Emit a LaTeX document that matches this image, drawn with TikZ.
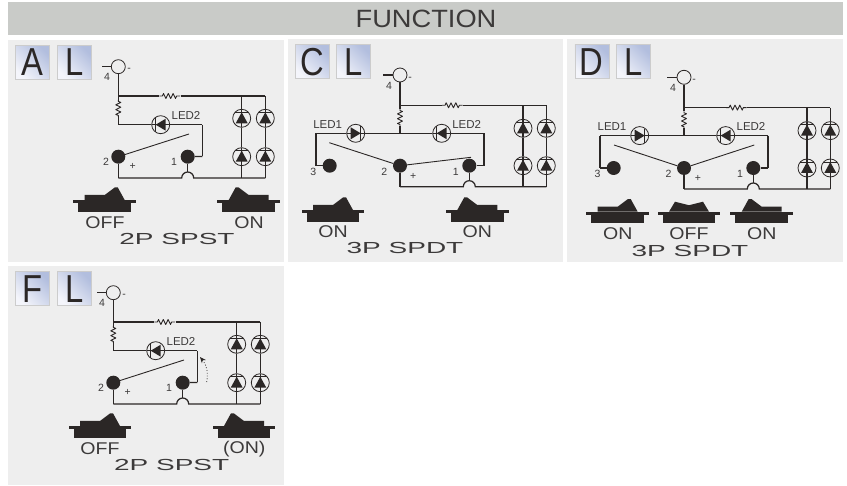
\documentclass[tikz,border=0pt]{standalone}
\usepackage{fontspec}
\setmainfont{Liberation Sans}
\usetikzlibrary{positioning,arrows.meta}

\definecolor{ink}{HTML}{2B2726}
\definecolor{inktext}{HTML}{3C3A3A}
\definecolor{panelgray}{HTML}{EEEEEE}
\definecolor{headgray}{HTML}{C9CBC8}
\definecolor{keylight}{HTML}{F4F5FB}
\definecolor{keyblue}{HTML}{B2BEDE}

\newcommand{\keyletter}[1]{\scalebox{.84}[1]{#1}}

\tikzset{
  wire/.style={line width=1.25pt,ink},
  lever/.style={line width=.9pt,ink},
  panel/.style={rectangle,fill=panelgray,inner sep=0pt,anchor=north west},
  term/.style={circle,fill=ink,inner sep=0pt,minimum size=14pt},
  jack/.style={circle,draw=ink,line width=.8pt,inner sep=0pt,minimum size=14pt},
  keycap/.style={rectangle,draw=black!20,line width=.6pt,minimum size=34pt,inner sep=0pt,
    left color=keylight,right color=keyblue,shading angle=135,
    text=ink,font=\fontsize{39}{39}\selectfont},
  ledup/.style={circle,draw=ink,line width=.8pt,minimum size=18pt,inner sep=0pt,path picture={
    \draw[wire] ([yshift=12pt]path picture bounding box.center) -- ++(0,24);
    \fill[ink] ([shift={(-6,5)}]path picture bounding box.center) -- ++(12,0) -- ++(-6,-11) -- cycle;
    \draw[lever] ([shift={(-7,-6)}]path picture bounding box.center) -- ++(14,0);}},
  ledleft/.style={circle,draw=ink,line width=.8pt,minimum size=18pt,inner sep=0pt,path picture={
    \draw[wire] ([xshift=-12pt]path picture bounding box.center) -- ++(24,0);
    \fill[ink] ([shift={(5,-6)}]path picture bounding box.center) -- ++(0,12) -- ++(-10,-6) -- cycle;
    \draw[lever] ([shift={(-5,-7)}]path picture bounding box.center) -- ++(0,14);}},
  ledright/.style={circle,draw=ink,line width=.8pt,minimum size=18pt,inner sep=0pt,path picture={
    \draw[wire] ([xshift=-12pt]path picture bounding box.center) -- ++(24,0);
    \fill[ink] ([shift={(-5,-6)}]path picture bounding box.center) -- ++(0,12) -- ++(10,-6) -- cycle;
    \draw[lever] ([shift={(5,-7)}]path picture bounding box.center) -- ++(0,14);}},
  resh/.style={rectangle,minimum width=21pt,minimum height=8pt,inner sep=0pt,path picture={
    \draw[lever,line join=round] ([xshift=-10.5pt]path picture bounding box.center)
      -- ++(3,0) -- ++(1.2,-2.5) -- ++(2.4,5) -- ++(2.4,-5) -- ++(2.4,5) -- ++(2.4,-5) -- ++(2.4,5) -- ++(1.2,-2.5) -- ++(3.3,0);}},
  resv/.style={rectangle,minimum height=17pt,minimum width=8pt,inner sep=0pt,path picture={
    \draw[lever,line join=round] ([yshift=8.5pt]path picture bounding box.center)
      -- ++(0,1.5) -- ++(2.5,1) -- ++(-5,2.4) -- ++(5,2.4) -- ++(-5,2.4) -- ++(5,2.4) -- ++(-5,2.4) -- ++(2.5,1) -- ++(0,1.5);}},
  tag/.style={text=inktext,inner sep=0pt,font=\fontsize{10.5}{10.5}\selectfont},
  ledtag/.style={text=inktext,inner sep=0pt,font=\fontsize{11.5}{11.5}\selectfont},
  swtext/.style={text=inktext,inner sep=0pt,xscale=1.15,transform shape,font=\fontsize{17}{17}\selectfont},
  modetext/.style={text=inktext,inner sep=0pt,xscale=1.75,transform shape,font=\fontsize{16}{16}\selectfont},
  pics/rockerl/.style={code={
    \fill[ink] (-31.3,0) rectangle (31.3,3);
    \fill[ink] (-26.3,3) rectangle (26.3,11.7);
    \fill[ink] (-20,0) -- (-20,-5) -- (0,-5) -- (10,-12.5) -- (13,-12.7) -- (20,0) -- cycle;}},
  pics/rockerr/.style={code={
    \fill[ink] (-31.3,0) rectangle (31.3,3);
    \fill[ink] (-26.3,3) rectangle (26.3,11.7);
    \fill[ink] (20,0) -- (20,-5) -- (0,-5) -- (-10,-12.5) -- (-13,-12.7) -- (-20,0) -- cycle;}},
  pics/rockerm/.style={code={
    \fill[ink] (-31.3,0) rectangle (31.3,3);
    \fill[ink] (-26.3,3) rectangle (26.3,11.7);
    \fill[ink] (-20,0) -- (-14,-10) -- (0,-6.5) -- (14,-10) -- (20,0) -- cycle;}},
}

\begin{document}
\begin{tikzpicture}[x=1pt,y=-1pt,on grid]
  \useasboundingbox (0,0) rectangle (847,486);

  \node[panel,minimum width=835pt,minimum height=33pt,fill=headgray] (head) at (8,2) {};
  \node[text=inktext,xscale=1.09,transform shape,font=\fontsize{25}{25}\selectfont] (title) at (426,18.7) {FUNCTION};
  \node[panel,minimum width=275.5pt,minimum height=222pt] (panel_a) at (8,40) {};
  \node[panel,minimum width=275pt,minimum height=223pt] (panel_c) at (288,39) {};
  \node[panel,minimum width=276pt,minimum height=223pt] (panel_d) at (567,39) {};
  \node[panel,minimum width=275.5pt,minimum height=219pt] (panel_f) at (8,266) {};

  % panel A
  \node[keycap] (a_key) at (32.5,62.5) {\keyletter{A}};
  \node[keycap] (a_lkey) [right=42pt of a_key] {\keyletter{L}};
  \node[jack] (a_4) at (118.3,66.7) {};
  \coordinate (a_lead) at (102,66.7);
  \coordinate[below=29.3pt of a_4] (a_j);
  \node[resv] (a_rv) [below=41.7pt of a_4] {};
  \coordinate[below=58pt of a_4] (a_k);
  \node[term] (a_2) [below=90pt of a_4] {};
  \node[term] (a_1) [right=69.4pt of a_2] {};
  \coordinate[below=21.3pt of a_2] (a_s);
  \node[resh] (a_rh) [right=51.5pt of a_j,anchor=center] {};
  \coordinate[right=123.4pt of a_j] (a_c1);
  \coordinate[right=147pt of a_j] (a_c2);
  \node[ledup] (a_d1) [below=22.3pt of a_c1,anchor=center] {};
  \node[ledup] (a_d2) [below=22.3pt of a_c2,anchor=center] {};
  \node[ledup] (a_d3) [below=60.7pt of a_c1,anchor=center] {};
  \node[ledup] (a_d4) [below=60.7pt of a_c2,anchor=center] {};
  \coordinate[right=123.4pt of a_s] (a_b1);
  \coordinate[right=147pt of a_s] (a_b2);
  \node[ledleft] (a_led2) [right=42.4pt of a_k,anchor=center] {};
  \coordinate[right=84pt of a_k] (a_e);
  \coordinate[below=31.7pt of a_e] (a_f);
  \coordinate[right=69.4pt of a_s] (a_hb);
  \coordinate[left=6pt of a_hb] (a_hl);
  \coordinate[above=6pt of a_hb] (a_ht);
  \coordinate (a_tip) at (189,134);
  \node[ledtag] (a_led2t) at (186,115) {LED2};
  \node[tag] (a_n4) at (107,76.7) {4};
  \node[tag] (a_nm) at (129,70) {-};
  \node[tag] (a_n2) at (106,162) {2};
  \node[tag] (a_n1) at (174,162) {1};
  \node[tag] (a_np) at (132.7,166.7) {+};
  \path[wire]
    (a_lead) edge (a_4)
    (a_4) edge (a_j)
    (a_j) edge (a_rv)
    (a_rv) edge (a_k)
    (a_j) edge (a_rh)
    (a_rh) edge (a_c2)
    (a_c1) edge (a_d1)
    (a_d1) edge (a_d3)
    (a_d3) edge (a_b1)
    (a_c2) edge (a_d2)
    (a_d2) edge (a_d4)
    (a_d4) edge (a_b2)
    (a_k) edge (a_led2)
    (a_led2) edge (a_e)
    (a_e) edge (a_f)
    (a_f) edge (a_1)
    (a_2) edge (a_s)
    (a_1) edge (a_ht);
  \draw[wire] (a_s) -- (a_hl) arc[start angle=180,end angle=0,radius=6pt] -- (a_b2);
  \path[lever] (a_2) edge (a_tip);
  \pic (a_r1) at (104.7,200) {rockerl};
  \pic (a_r2) at (248.7,200) {rockerr};
  \node[swtext] (a_off) at (105,222.7) {OFF};
  \node[swtext] (a_on) at (249,222.7) {ON};
  \node[modetext] (a_mode) at (177,239) {2P SPST};

  % panel C
  \node[keycap] (c_key) at (312.5,61.8) {\keyletter{C}};
  \node[keycap] (c_lkey) [right=41pt of c_key] {\keyletter{L}};
  \node[jack] (c_4) at (400,75) {};
  \coordinate (c_lead) at (383,75);
  \coordinate[below=30.3pt of c_4] (c_j);
  \node[resv] (c_rv) [below=42.5pt of c_4] {};
  \coordinate[below=58.3pt of c_4] (c_k);
  \node[term] (c_2) [below=90.7pt of c_4] {};
  \node[term] (c_1) [right=69.3pt of c_2] {};
  \node[term] (c_3) [left=70.3pt of c_2] {};
  \coordinate[below=21pt of c_2] (c_s);
  \node[resh] (c_rh) [right=52.5pt of c_j,anchor=center] {};
  \coordinate[right=123pt of c_j] (c_c1);
  \coordinate[right=146.3pt of c_j] (c_c2);
  \node[ledup] (c_d1) [below=23pt of c_c1,anchor=center] {};
  \node[ledup] (c_d2) [below=23pt of c_c2,anchor=center] {};
  \node[ledup] (c_d3) [below=60.4pt of c_c1,anchor=center] {};
  \node[ledup] (c_d4) [below=60.4pt of c_c2,anchor=center] {};
  \coordinate[right=123pt of c_s] (c_b1);
  \coordinate[right=146.3pt of c_s] (c_b2);
  \node[ledright] (c_led1) [left=44.3pt of c_k,anchor=center] {};
  \node[ledleft] (c_led2) [right=41.7pt of c_k,anchor=center] {};
  \coordinate[left=84pt of c_k] (c_e);
  \coordinate[right=84pt of c_k] (c_g);
  \coordinate[below=32.4pt of c_e] (c_f);
  \coordinate[below=32.4pt of c_g] (c_h);
  \coordinate[right=69.3pt of c_s] (c_hb);
  \coordinate[left=6pt of c_hb] (c_hl);
  \coordinate[above=6pt of c_hb] (c_ht);
  \coordinate (c_tip1) at (329.3,142.7);
  \coordinate (c_tip2) at (471,157.3);
  \node[ledtag] (c_led1t) at (327.7,124.3) {LED1};
  \node[ledtag] (c_led2t) at (466.7,124.3) {LED2};
  \node[tag] (c_n4) at (389,85.7) {4};
  \node[tag] (c_nm) at (410,79) {-};
  \node[tag] (c_n3) at (313.3,172.3) {3};
  \node[tag] (c_n2) at (384.3,172.3) {2};
  \node[tag] (c_n1) at (455.7,172.3) {1};
  \node[tag] (c_np) at (413.3,176.7) {+};
  \path[wire]
    (c_lead) edge (c_4)
    (c_4) edge (c_j)
    (c_j) edge (c_rv)
    (c_rv) edge (c_k)
    (c_j) edge (c_rh)
    (c_rh) edge (c_c2)
    (c_c1) edge (c_d1)
    (c_d1) edge (c_d3)
    (c_d3) edge (c_b1)
    (c_c2) edge (c_d2)
    (c_d2) edge (c_d4)
    (c_d4) edge (c_b2)
    (c_e) edge (c_led1)
    (c_led1) edge (c_led2)
    (c_led2) edge (c_g)
    (c_e) edge (c_f)
    (c_f) edge (c_3)
    (c_g) edge (c_h)
    (c_h) edge (c_1)
    (c_2) edge (c_s)
    (c_1) edge (c_ht);
  \draw[wire] (c_s) -- (c_hl) arc[start angle=180,end angle=0,radius=6pt] -- (c_b2);
  \path[lever]
    (c_2) edge (c_tip1)
    (c_2) edge (c_tip2);
  \pic (c_r1) at (333,210) {rockerl};
  \pic (c_r2) at (477.3,210) {rockerr};
  \node[swtext] (c_on1) at (333,231.7) {ON};
  \node[swtext] (c_on2) at (477.3,231.7) {ON};
  \node[modetext] (c_mode) at (405,248.3) {3P SPDT};

  % panel D
  \node[keycap] (d_key) at (591.8,61.8) {\keyletter{D}};
  \node[keycap] (d_lkey) [right=41.7pt of d_key] {\keyletter{L}};
  \node[jack] (d_4) at (684,77.3) {};
  \coordinate (d_lead) at (667,77.3);
  \coordinate[below=30.3pt of d_4] (d_j);
  \node[resv] (d_rv) [below=42.5pt of d_4] {};
  \coordinate[below=58.3pt of d_4] (d_k);
  \node[term] (d_2) [below=90.7pt of d_4] {};
  \node[term] (d_1) [right=69.3pt of d_2] {};
  \node[term] (d_3) [left=70.3pt of d_2] {};
  \coordinate[below=21pt of d_2] (d_s);
  \node[resh] (d_rh) [right=52.5pt of d_j,anchor=center] {};
  \coordinate[right=123pt of d_j] (d_c1);
  \coordinate[right=146.3pt of d_j] (d_c2);
  \node[ledup] (d_d1) [below=23pt of d_c1,anchor=center] {};
  \node[ledup] (d_d2) [below=23pt of d_c2,anchor=center] {};
  \node[ledup] (d_d3) [below=60.4pt of d_c1,anchor=center] {};
  \node[ledup] (d_d4) [below=60.4pt of d_c2,anchor=center] {};
  \coordinate[right=123pt of d_s] (d_b1);
  \coordinate[right=146.3pt of d_s] (d_b2);
  \node[ledright] (d_led1) [left=44.3pt of d_k,anchor=center] {};
  \node[ledleft] (d_led2) [right=41.7pt of d_k,anchor=center] {};
  \coordinate[left=84pt of d_k] (d_e);
  \coordinate[right=84pt of d_k] (d_g);
  \coordinate[below=32.4pt of d_e] (d_f);
  \coordinate[below=32.4pt of d_g] (d_h);
  \coordinate[right=69.3pt of d_s] (d_hb);
  \coordinate[left=6pt of d_hb] (d_hl);
  \coordinate[above=6pt of d_hb] (d_ht);
  \coordinate (d_tip1) at (614,145);
  \coordinate (d_tip2) at (754.3,145);
  \node[ledtag] (d_led1t) at (612,126.3) {LED1};
  \node[ledtag] (d_led2t) at (751,126.3) {LED2};
  \node[tag] (d_n4) at (673,88) {4};
  \node[tag] (d_nm) at (694,81) {-};
  \node[tag] (d_n3) at (597.5,174.3) {3};
  \node[tag] (d_n2) at (668.5,174.3) {2};
  \node[tag] (d_n1) at (740,174.3) {1};
  \node[tag] (d_np) at (698,178.7) {+};
  \path[wire]
    (d_lead) edge (d_4)
    (d_4) edge (d_j)
    (d_j) edge (d_rv)
    (d_rv) edge (d_k)
    (d_j) edge (d_rh)
    (d_rh) edge (d_c2)
    (d_c1) edge (d_d1)
    (d_d1) edge (d_d3)
    (d_d3) edge (d_b1)
    (d_c2) edge (d_d2)
    (d_d2) edge (d_d4)
    (d_d4) edge (d_b2)
    (d_e) edge (d_led1)
    (d_led1) edge (d_led2)
    (d_led2) edge (d_g)
    (d_e) edge (d_f)
    (d_f) edge (d_3)
    (d_g) edge (d_h)
    (d_h) edge (d_1)
    (d_2) edge (d_s)
    (d_1) edge (d_ht);
  \draw[wire] (d_s) -- (d_hl) arc[start angle=180,end angle=0,radius=6pt] -- (d_b2);
  \path[lever]
    (d_2) edge (d_tip1)
    (d_2) edge (d_tip2);
  \pic (d_r1) at (617.7,211.7) {rockerl};
  \pic (d_r2) at (689,211.7) {rockerm};
  \pic (d_r3) at (761.7,211.7) {rockerr};
  \node[swtext] (d_on1) at (617.7,234) {ON};
  \node[swtext] (d_off) at (689,234) {OFF};
  \node[swtext] (d_on2) at (761.7,234) {ON};
  \node[modetext] (d_mode) at (690,250.7) {3P SPDT};

  % panel F
  \node[keycap] (f_key) at (32.5,288.8) {\keyletter{F}};
  \node[keycap] (f_lkey) [right=42pt of f_key] {\keyletter{L}};
  \node[jack] (f_4) at (113.3,292.7) {};
  \coordinate (f_lead) at (97,292.7);
  \coordinate[below=29.3pt of f_4] (f_j);
  \node[resv] (f_rv) [below=41.7pt of f_4] {};
  \coordinate[below=58pt of f_4] (f_k);
  \node[term] (f_2) [below=90pt of f_4] {};
  \node[term] (f_1) [right=69.4pt of f_2] {};
  \coordinate[below=21.3pt of f_2] (f_s);
  \node[resh] (f_rh) [right=51.5pt of f_j,anchor=center] {};
  \coordinate[right=123.4pt of f_j] (f_c1);
  \coordinate[right=147pt of f_j] (f_c2);
  \node[ledup] (f_d1) [below=22.3pt of f_c1,anchor=center] {};
  \node[ledup] (f_d2) [below=22.3pt of f_c2,anchor=center] {};
  \node[ledup] (f_d3) [below=60.7pt of f_c1,anchor=center] {};
  \node[ledup] (f_d4) [below=60.7pt of f_c2,anchor=center] {};
  \coordinate[right=123.4pt of f_s] (f_b1);
  \coordinate[right=147pt of f_s] (f_b2);
  \node[ledleft] (f_led2) [right=42.4pt of f_k,anchor=center] {};
  \coordinate[right=84pt of f_k] (f_e);
  \coordinate[below=31.7pt of f_e] (f_f);
  \coordinate[right=69.4pt of f_s] (f_hb);
  \coordinate[left=6pt of f_hb] (f_hl);
  \coordinate[above=6pt of f_hb] (f_ht);
  \coordinate (f_tip) at (184,360);
  \coordinate (f_from) at (206.7,382);
  \coordinate (f_to) at (200,357);
  \node[ledtag] (f_led2t) at (181,341) {LED2};
  \node[tag] (f_n4) at (102,302.7) {4};
  \node[tag] (f_nm) at (124,296) {-};
  \node[tag] (f_n2) at (101,388) {2};
  \node[tag] (f_n1) at (169,388) {1};
  \node[tag] (f_np) at (127.7,392.7) {+};
  \path[wire]
    (f_lead) edge (f_4)
    (f_4) edge (f_j)
    (f_j) edge (f_rv)
    (f_rv) edge (f_k)
    (f_j) edge (f_rh)
    (f_rh) edge (f_c2)
    (f_c1) edge (f_d1)
    (f_d1) edge (f_d3)
    (f_d3) edge (f_b1)
    (f_c2) edge (f_d2)
    (f_d2) edge (f_d4)
    (f_d4) edge (f_b2)
    (f_k) edge (f_led2)
    (f_led2) edge (f_e)
    (f_e) edge (f_f)
    (f_f) edge (f_1)
    (f_2) edge (f_s)
    (f_1) edge (f_ht);
  \draw[wire] (f_s) -- (f_hl) arc[start angle=180,end angle=0,radius=6pt] -- (f_b2);
  \path[lever] (f_2) edge (f_tip);
  \draw[dotted,line width=.8pt,ink,-{Stealth[length=6pt,width=5pt]}] (f_from) to[bend right=25] (f_to);
  \pic (f_r1) at (100,426) {rockerl};
  \pic (f_r2) at (244,426) {rockerr};
  \node[swtext] (f_off) at (100,448.7) {OFF};
  \node[swtext] (f_on) at (244.3,448.7) {(ON)};
  \node[modetext] (f_mode) at (171.7,465.3) {2P SPST};
\end{tikzpicture}
\end{document}
